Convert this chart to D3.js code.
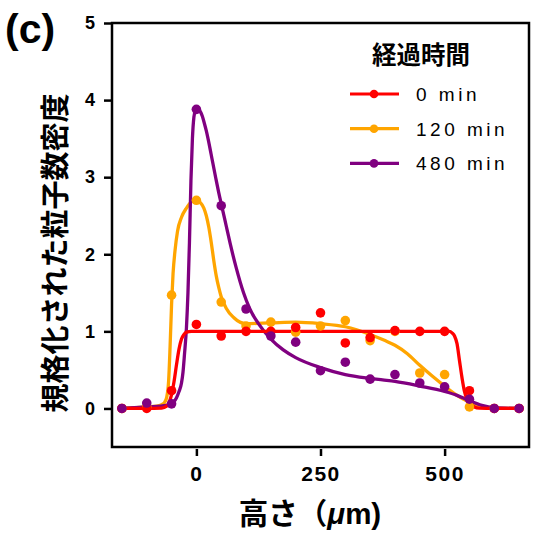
<!DOCTYPE html>
<html><head><meta charset="utf-8">
<script src="https://cdn.jsdelivr.net/npm/d3@7"></script>
<style>
body{margin:0;background:#fff;}
svg{display:block;}
</style></head>
<body>
<svg id="chart" width="540" height="538"></svg>
<script>
// ---- data ----
const heights = [-150,-100,-50,0,50,100,150,200,250,300,350,400,450,500,550,600,650];
const seriesNames = ["0 min","120 min","480 min"];
const seriesColors = ["#ff0000","#ffa500","#800080"];
const values0   = [0,0,0.23,1.09,0.94,1.0,1.0,1.05,1.24,0.85,0.92,1.01,1.0,1.0,0.23,0,0];
const values120 = [0,0.02,1.47,2.70,1.38,1.07,1.12,0.99,1.07,1.14,0.88,1.0,0.46,0.44,0.02,0,0];
const values480 = [0,0.07,0.06,3.88,2.63,1.29,0.94,0.86,0.49,0.60,0.38,0.44,0.33,0.28,0.12,0,0];

// fitted curves
const fitX0 = [-150,-100,-70,-60,-55,-50,-45,-40,-35,-30,-25,-20,-10,0,100,200,300,400,500,510,515,520,525,530,535,540,545,550,555,560,570,600,650];
const fitY0 = [0,0,0.005,0.03,0.08,0.18,0.35,0.57,0.77,0.9,0.96,0.99,1.0,1.0,1.0,1.0,1.0,1.0,1.0,1.0,0.98,0.94,0.84,0.62,0.4,0.22,0.12,0.07,0.04,0.02,0.005,0,0];
const fitX120 = [-150,-100,-80,-70,-64,-60,-56,-53,-50,-47,-43,-38,-30,-20,-10,0,8,15,20,25,30,35,40,45,50,60,75,100,150,200,250,300,350,380,400,425,450,475,500,525,550,570,600,650];
const fitY120 = [0,0.02,0.03,0.05,0.08,0.14,0.35,0.8,1.35,1.75,2.05,2.3,2.48,2.6,2.68,2.70,2.67,2.6,2.5,2.35,2.15,1.92,1.72,1.57,1.45,1.3,1.18,1.1,1.11,1.12,1.1,1.06,0.96,0.88,0.82,0.71,0.56,0.42,0.29,0.17,0.08,0.02,0,0];
const fitX480 = [-150,-100,-60,-50,-45,-40,-35,-30,-27,-24,-20,-17,-14,-11,-8,-5,-2,1,4,8,12,16,20,26,32,39,45,52,60,68,80,95,107,125,150,175,200,250,300,350,375,400,450,500,525,550,575,600,650];
const fitY480 = [0,0.02,0.04,0.06,0.09,0.14,0.22,0.33,0.47,0.7,1.05,1.5,2.15,2.95,3.5,3.78,3.87,3.89,3.88,3.85,3.79,3.7,3.6,3.42,3.22,2.99,2.8,2.6,2.37,2.14,1.83,1.5,1.3,1.1,0.9,0.76,0.66,0.53,0.44,0.39,0.37,0.35,0.29,0.22,0.17,0.1,0.04,0.01,0];

const xTicks = [0,250,500];
const yTicks = [0,1,2,3,4,5];

// ---- layout ----
const svg = d3.select("#chart");
const L = 112, R = 529, T = 23, B = 447;
const x = d3.scaleLinear().domain([-170,670]).range([L,R]);
const y = d3.scaleLinear().domain([-0.5,5]).range([B,T]);
const latin = "'Liberation Sans', Arial, Helvetica, sans-serif";
const cjk = "'Noto Sans CJK JP', 'Noto Sans CJK SC', sans-serif";

// axes
const yAxis = d3.axisLeft(y).tickValues(yTicks).tickSize(7).tickPadding(9).tickFormat(d3.format("d"));
const gy = svg.append("g").attr("transform",`translate(${L-1},0)`).call(yAxis);
gy.select(".domain").remove();
gy.selectAll(".tick line").attr("stroke","#000").attr("stroke-width",2.5);
gy.selectAll(".tick text").attr("font-family",latin).attr("font-weight","bold").attr("font-size",18).attr("fill","#000");

const xAxis = d3.axisBottom(x).tickValues(xTicks).tickSize(7).tickPadding(10).tickFormat(d3.format("d"));
const gx = svg.append("g").attr("transform",`translate(0,${B+2})`).call(xAxis);
gx.select(".domain").remove();
gx.selectAll(".tick line").attr("stroke","#000").attr("stroke-width",2.5);
gx.selectAll(".tick text").attr("font-family",latin).attr("font-weight","bold").attr("font-size",21).attr("letter-spacing","1.5px").attr("fill","#000");

// frame
svg.append("rect").attr("x",L).attr("y",T).attr("width",R-L).attr("height",B-T)
  .attr("fill","none").attr("stroke","#000").attr("stroke-width",2.5);

// lines
const line = d3.line().x(d=>x(d[0])).y(d=>y(d[1])).curve(d3.curveMonotoneX);
const fits = [
  {xs:fitX0, ys:fitY0, c:seriesColors[0]},
  {xs:fitX120, ys:fitY120, c:seriesColors[1]},
  {xs:fitX480, ys:fitY480, c:seriesColors[2]}
];
const plot = svg.append("g");
[1,2,0].forEach(i=>{
  const f = fits[i];
  plot.append("path").datum(f.xs.map((v,j)=>[v,f.ys[j]]))
    .attr("d",line).attr("fill","none").attr("stroke",f.c).attr("stroke-width",3.3)
    .attr("stroke-linejoin","round");
});
// points
const pts = [values0, values120, values480];
[1,0,2].forEach(i=>{
  plot.append("g").selectAll("circle").data(heights.map((h,j)=>[h,pts[i][j]])).join("circle")
    .attr("cx",d=>x(d[0])).attr("cy",d=>y(d[1])).attr("r",4.8).attr("fill",seriesColors[i]);
});

// legend
svg.append("text").attr("x",421).attr("y",64).attr("text-anchor","middle")
  .attr("font-family",cjk).attr("font-weight","bold").attr("font-size",24.5).attr("fill","#000").text("経過時間");
const lg = svg.append("g");
seriesNames.forEach((n,i)=>{
  const cy = 94 + i*34.7;
  lg.append("line").attr("x1",350).attr("x2",399).attr("y1",cy).attr("y2",cy)
    .attr("stroke",seriesColors[i]).attr("stroke-width",3.2);
  lg.append("circle").attr("cx",374).attr("cy",cy).attr("r",4.3).attr("fill",seriesColors[i]);
  lg.append("text").attr("x",416).attr("y",cy+7).attr("font-family",latin).attr("font-size",19)
    .attr("letter-spacing","3.5px").attr("fill","#000").text(n);
});

// axis titles
svg.append("text").attr("transform","translate(66,253) rotate(-90)").attr("text-anchor","middle")
  .attr("font-family",cjk).attr("font-weight","bold").attr("font-size",29).attr("fill","#000")
  .text("規格化された粒子数密度");
const xt = svg.append("text").attr("x",310).attr("y",524).attr("text-anchor","middle")
  .attr("font-weight","bold").attr("font-size",29.5).attr("fill","#000");
xt.append("tspan").attr("font-family",cjk).text("高さ（");
xt.append("tspan").attr("font-family",latin).attr("font-style","italic").text("μ");
xt.append("tspan").attr("font-family",latin).text("m)");

// panel label
svg.append("text").attr("x",5).attr("y",43).attr("font-family",latin).attr("font-weight","bold")
  .attr("font-size",41).attr("fill","#000").text("(c)");
</script>
</body></html>
